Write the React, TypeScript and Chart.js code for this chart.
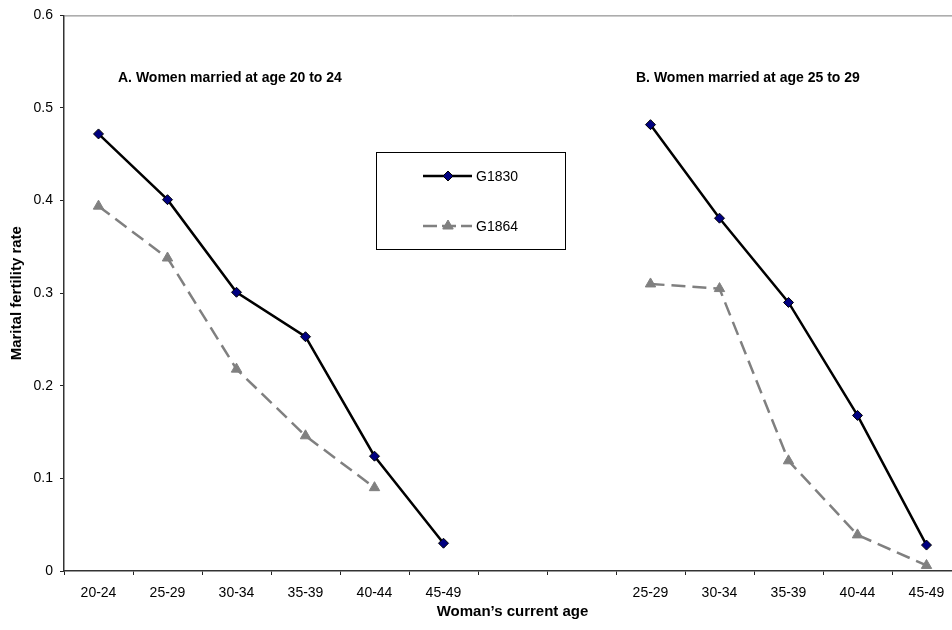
import React, { useEffect, useRef } from "react";
import { Chart, registerables } from "chart.js";

Chart.register(...registerables);

const FONT = 'Arial, "Liberation Sans", Helvetica, sans-serif';

const categories = ["20-24", "25-29", "30-34", "35-39", "40-44", "45-49", "", "", "25-29", "30-34", "35-39", "40-44", "45-49"];
const g1830 = [0.472, 0.401, 0.301, 0.253, 0.124, 0.030, null, null, 0.482, 0.381, 0.290, 0.168, 0.028];
const g1864 = [0.394, 0.338, 0.218, 0.146, 0.090, null, null, null, 0.310, 0.305, 0.119, 0.039, 0.006];
const yTicks = [0, 0.1, 0.2, 0.3, 0.4, 0.5, 0.6];
const seriesNames = ["G1830", "G1864"];
const panelTitles = ["A. Women married at age 20 to 24", "B. Women married at age 25 to 29"];
const xTitle = "Woman\u2019s current age";
const yTitle = "Marital fertility rate";

const CANVAS_W = 980;
const CANVAS_H = 630;

export default function App() {
  const ref = useRef<HTMLCanvasElement | null>(null);

  useEffect(() => {
    if (!ref.current) return;

    const overlay = {
      id: "overlay",
      afterDraw(chart: any) {
        const ctx = chart.ctx;
        const a = chart.chartArea;
        ctx.save();
        // plot border (top / right)
        ctx.strokeStyle = "#7a7a7a";
        ctx.lineWidth = 1;
        ctx.beginPath();
        ctx.moveTo(a.left, a.top + 0.5);
        ctx.lineTo(a.right, a.top + 0.5);
        ctx.lineTo(a.right, a.bottom);
        ctx.stroke();

        // panel titles
        ctx.fillStyle = "#000";
        ctx.font = `bold 14px ${FONT}`;
        ctx.textBaseline = "middle";
        ctx.textAlign = "left";
        ctx.fillText(panelTitles[0], 118, 78);
        ctx.fillText(panelTitles[1], 636, 78);

        // axis titles
        ctx.font = `bold 15px ${FONT}`;
        ctx.textAlign = "center";
        ctx.fillText(xTitle, (a.left + a.right) / 2, 612);
        ctx.save();
        ctx.translate(17, (a.top + a.bottom) / 2);
        ctx.rotate(-Math.PI / 2);
        ctx.fillText(yTitle, 0, 0);
        ctx.restore();

        // legend
        const bx = 376, by = 152, bw = 189, bh = 97;
        ctx.fillStyle = "#fff";
        ctx.fillRect(bx, by, bw, bh);
        ctx.strokeStyle = "#000";
        ctx.lineWidth = 1;
        ctx.strokeRect(bx + 0.5, by + 0.5, bw, bh);
        const rows = [176, 226];
        chart.data.datasets.forEach((ds: any, i: number) => {
          const y = rows[i];
          ctx.save();
          ctx.strokeStyle = ds.borderColor;
          ctx.lineWidth = ds.borderWidth;
          ctx.setLineDash(i === 1 ? [14, 5] : []);
          ctx.beginPath();
          ctx.moveTo(423, y);
          ctx.lineTo(472, y);
          ctx.stroke();
          ctx.setLineDash([]);
          ctx.restore();
          ctx.save();
          ctx.fillStyle = ds.pointBackgroundColor;
          ctx.strokeStyle = ds.pointBorderColor;
          ctx.lineWidth = 1;
          ctx.beginPath();
          if (i === 0) {
            const r = 5;
            ctx.moveTo(448, y - r);
            ctx.lineTo(448 + r, y);
            ctx.lineTo(448, y + r);
            ctx.lineTo(448 - r, y);
          } else {
            const r = 6;
            ctx.moveTo(448, y - r);
            ctx.lineTo(448 + r * 0.87, y + r * 0.5);
            ctx.lineTo(448 - r * 0.87, y + r * 0.5);
          }
          ctx.closePath();
          ctx.fill();
          ctx.stroke();
          ctx.restore();
          ctx.fillStyle = "#000";
          ctx.font = `14px ${FONT}`;
          ctx.textAlign = "left";
          ctx.textBaseline = "middle";
          ctx.fillText(seriesNames[i], 476, y + 1);
        });
        ctx.restore();
      },
    };

    const chart = new Chart(ref.current, {
      type: "line",
      data: {
        labels: categories,
        datasets: [
          {
            label: seriesNames[0],
            data: g1830,
            borderColor: "#000000",
            borderWidth: 2.5,
            pointStyle: "rectRot",
            pointRadius: 5,
            pointBackgroundColor: "#000080",
            pointBorderColor: "#000000",
            pointBorderWidth: 1,
            spanGaps: false,
            tension: 0,
          },
          {
            label: seriesNames[1],
            data: g1864,
            borderColor: "#808080",
            borderWidth: 2.5,
            borderDash: [14, 7],
            pointStyle: "triangle",
            pointRadius: 6,
            pointBackgroundColor: "#808080",
            pointBorderColor: "#808080",
            pointBorderWidth: 1,
            spanGaps: false,
            tension: 0,
          },
        ],
      },
      options: {
        responsive: false,
        animation: false,
        devicePixelRatio: 1,
        layout: { padding: { left: 0, top: 13, right: CANVAS_W - 961, bottom: 0 } },
        plugins: {
          legend: { display: false },
          tooltip: { enabled: false },
          title: { display: false },
        },
        scales: {
          x: {
            type: "category",
            offset: true,
            grid: {
              offset: true,
              drawOnChartArea: false,
              drawTicks: true,
              tickLength: 4,
              color: "#222",
            },
            border: { display: true, color: "#333", width: 1.5 },
            ticks: {
              autoSkip: false,
              maxRotation: 0,
              padding: 10,
              color: "#000",
              font: { family: FONT, size: 14 },
            },
            afterFit(scale: any) {
              scale.height = 59;
            },
          },
          y: {
            min: 0,
            max: 0.6,
            afterBuildTicks(scale: any) {
              scale.ticks = yTicks.map((v) => ({ value: v }));
            },
            grid: {
              drawOnChartArea: false,
              drawTicks: true,
              tickLength: 4,
              color: "#222",
            },
            border: { display: true, color: "#333", width: 1.5 },
            ticks: {
              padding: 7,
              color: "#000",
              font: { family: FONT, size: 14 },
              callback: (v: any) => String(Math.round(Number(v) * 10) / 10),
            },
            afterFit(scale: any) {
              scale.width = 64;
            },
          },
        },
      },
      plugins: [overlay],
    });

    return () => chart.destroy();
  }, []);

  return (
    <div
      style={{
        position: "fixed",
        left: 0,
        top: 0,
        width: 952,
        height: 630,
        overflow: "hidden",
        background: "#fff",
      }}
    >
      <canvas ref={ref} width={CANVAS_W} height={CANVAS_H} style={{ display: "block", width: CANVAS_W, height: CANVAS_H }} />
    </div>
  );
}
